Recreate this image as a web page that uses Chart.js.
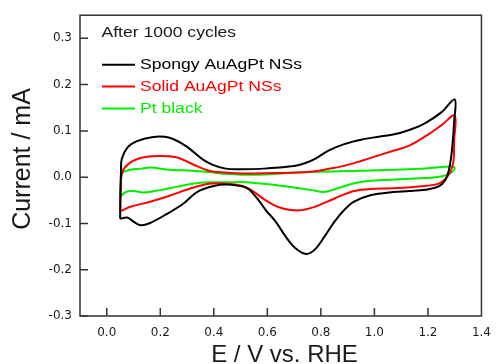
<!DOCTYPE html>
<html><head><meta charset="utf-8">
<script src="https://cdn.jsdelivr.net/npm/chart.js@4/dist/chart.umd.min.js"></script>
<style>html,body{margin:0;padding:0;background:#fff}#wrap{width:501px;height:364px}</style>
</head><body><div id="wrap"><canvas id="c" width="501" height="364"></canvas></div>
<script>
// ---- data (E / V vs. RHE, Current / mA), closed CV loops ----
const seriesNames = ["Spongy AuAgPt NSs", "Solid AuAgPt NSs", "Pt black"];
const seriesColors = ["#000000", "#ff0000", "#00ee00"];
const annotationText = "After 1000 cycles";
const xTitle = "E / V vs. RHE";
const yTitle = "Current / mA";

const spongyE = [0.05,0.051,0.053,0.056,0.077,0.113,0.174,0.235,0.296,0.357,0.394,0.44,0.5,0.6,0.7,0.74,0.78,0.83,0.89,0.95,1.01,1.07,1.13,1.19,1.25,1.3,
  1.298,1.29,1.28,1.265,1.24,1.19,1.13,1.07,0.985,0.924,0.887,0.851,0.814,0.778,0.745,0.704,0.668,0.631,0.594,0.558,0.522,0.45,0.4,0.34,0.284,0.223,0.162,0.126,0.095,0.077,0.05];
const spongyI = [-0.09,-0.04,0.01,0.039,0.064,0.078,0.087,0.085,0.067,0.039,0.027,0.019,0.017,0.019,0.024,0.03,0.04,0.058,0.072,0.081,0.087,0.092,0.102,0.117,0.14,0.168,
  0.12,0.06,0.02,-0.006,-0.02,-0.027,-0.030,-0.032,-0.039,-0.053,-0.071,-0.096,-0.128,-0.156,-0.166,-0.153,-0.128,-0.096,-0.071,-0.043,-0.023,-0.016,-0.019,-0.031,-0.058,-0.08,-0.099,-0.104,-0.094,-0.087,-0.09];

const solidE = [0.05,0.052,0.058,0.089,0.138,0.199,0.26,0.321,0.382,0.44,0.51,0.63,0.72,0.77,0.83,0.89,0.95,1.01,1.07,1.13,1.19,1.25,1.3,
  1.298,1.295,1.283,1.265,1.24,1.19,1.07,1.0,0.924,0.851,0.778,0.716,0.643,0.594,0.522,0.45,0.382,0.309,0.235,0.162,0.089,0.053,0.05];
const solidI = [-0.074,-0.03,0.011,0.032,0.043,0.046,0.043,0.028,0.014,0.01,0.008,0.009,0.010,0.012,0.018,0.025,0.035,0.046,0.057,0.068,0.088,0.112,0.133,
  0.08,0.032,0.011,-0.004,-0.014,-0.019,-0.024,-0.025,-0.03,-0.046,-0.064,-0.072,-0.065,-0.05,-0.022,-0.014,-0.014,-0.025,-0.04,-0.053,-0.064,-0.073,-0.074];

const ptE = [0.05,0.053,0.058,0.089,0.125,0.162,0.235,0.321,0.382,0.45,0.51,0.63,0.7,0.95,1.19,1.285,1.3,
  1.29,1.253,1.19,0.985,0.924,0.863,0.814,0.766,0.643,0.522,0.45,0.382,0.321,0.26,0.199,0.138,0.101,0.071,0.05];
const ptI = [-0.043,-0.01,0.009,0.016,0.018,0.021,0.016,0.014,0.011,0.007,0.005,0.007,0.010,0.014,0.019,0.023,0.020,
  0.011,0.002,-0.002,-0.008,-0.013,-0.024,-0.032,-0.028,-0.018,-0.011,-0.011,-0.011,-0.014,-0.021,-0.028,-0.033,-0.030,-0.032,-0.043];

const xTicks = [0.0,0.2,0.4,0.6,0.8,1.0,1.2,1.4];
const yTicks = [-0.3,-0.2,-0.1,0.0,0.1,0.2,0.3];

const toPts = (xs, ys) => xs.map((x, i) => ({x: x, y: ys[i]}));
const seriesData = [toPts(spongyE, spongyI), toPts(solidE, solidI), toPts(ptE, ptI)];

const TXT = '#1a1a1a';
const FRAME = '#333333';

const decor = {
  id: 'decor',
  afterDraw(chart) {
    const ctx = chart.ctx, a = chart.chartArea;
    const xs = chart.scales.x, ys = chart.scales.y;
    ctx.save();
    ctx.strokeStyle = FRAME; ctx.lineWidth = 1.5;
    ctx.strokeRect(a.left, a.top, a.right - a.left, a.bottom - a.top);
    ctx.beginPath();
    xTicks.forEach(v => { const p = xs.getPixelForValue(v); if (p < a.right - 1) { ctx.moveTo(p, a.bottom); ctx.lineTo(p, a.bottom - 8); } });
    yTicks.forEach(v => { const p = ys.getPixelForValue(v); ctx.moveTo(a.left, p); ctx.lineTo(a.left + 8, p); });
    ctx.stroke();
    const stretchText = (t, x, y, color, size) => {
      ctx.save(); ctx.translate(x, y); ctx.scale(1.17, 1);
      ctx.font = size + 'px "Liberation Sans", Arial, sans-serif';
      ctx.fillStyle = color; ctx.textAlign = 'left'; ctx.textBaseline = 'alphabetic';
      ctx.fillText(t, 0, 0); ctx.restore();
    };
    stretchText(annotationText, 101.5, 36.7, TXT, 15);
    const rows = [64.8, 86.5, 108.5];
    seriesNames.forEach((n, i) => {
      ctx.strokeStyle = seriesColors[i]; ctx.lineWidth = 2;
      ctx.beginPath(); ctx.moveTo(102, rows[i]); ctx.lineTo(135, rows[i]); ctx.stroke();
      stretchText(n, 140, rows[i] + 4.6, seriesColors[i], 15);
    });
    ctx.fillStyle = TXT;
    ctx.font = '24px "Liberation Sans", Arial, sans-serif';
    ctx.textAlign = 'center'; ctx.textBaseline = 'alphabetic';
    ctx.fillText(xTitle, 284.5, 362.3);
    ctx.save();
    ctx.translate(29.5, 159); ctx.rotate(-Math.PI / 2);
    ctx.font = '25px "Liberation Sans", Arial, sans-serif';
    ctx.fillText(yTitle, 0, 0);
    ctx.restore();
    ctx.restore();
  }
};

new Chart(document.getElementById('c'), {
  type: 'scatter',
  data: {
    datasets: seriesData.map((d, i) => ({
      label: seriesNames[i], data: d, showLine: true,
      borderColor: seriesColors[i], backgroundColor: seriesColors[i],
      borderWidth: 2, pointRadius: 0, tension: 0.35, fill: false
    }))
  },
  options: {
    responsive: false, devicePixelRatio: 1, animation: false,
    layout: { padding: { left: 0, right: 10, top: 10.5, bottom: 0 } },
    plugins: { legend: { display: false }, tooltip: { enabled: false } },
    scales: {
      x: {
        type: 'linear', min: -0.1, max: 1.4,
        afterBuildTicks: s => { s.ticks = xTicks.map(v => ({ value: v })); },
        afterFit: s => { s.height = 48; },
        grid: { display: false, drawTicks: false }, border: { display: false },
        ticks: { callback: v => Number(v).toFixed(1), font: { family: 'DejaVu Sans', size: 12 }, color: TXT, padding: 10, maxRotation: 0, autoSkip: false },
        title: { display: false }
      },
      y: {
        type: 'linear', min: -0.3, max: 0.35,
        afterBuildTicks: s => { s.ticks = yTicks.map(v => ({ value: v })); },
        afterFit: s => { s.width = 80; },
        grid: { display: false, drawTicks: false }, border: { display: false },
        ticks: { callback: v => Number(v).toFixed(1), font: { family: 'DejaVu Sans', size: 12 }, color: TXT, padding: 8, autoSkip: false },
        title: { display: false }
      }
    }
  },
  plugins: [decor]
});
</script>
</body></html>
